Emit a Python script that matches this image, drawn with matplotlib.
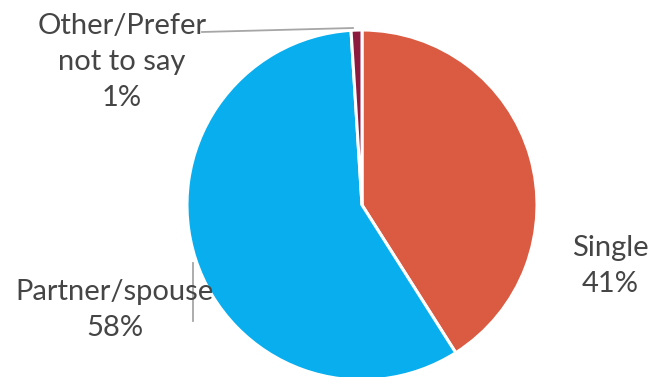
import matplotlib.pyplot as plt

labels = ['Single', 'Partner/spouse', 'Other/Prefer\nnot to say']
shares = [41, 58, 1]
colors = ['#DA5A42', '#08AEEE', '#8C1A3F']

fig = plt.figure(figsize=(6.51, 3.77), dpi=100)
ax = fig.add_axes([0, 0, 1, 1])

cx, cy, r = 362, 377 - 205, 175
ax.pie(shares, colors=colors, startangle=90, counterclock=False,
       center=(cx, cy), radius=r, frame=True,
       wedgeprops=dict(edgecolor='white', linewidth=2.2))
ax.set_xlim(0, 651)
ax.set_ylim(0, 377)
ax.set_aspect('equal')
ax.axis('off')

txt = dict(fontsize=21, color='#454545', ha='center', va='center',
           family='Lato', linespacing=1.5)
label_pos = [(610, 377 - 266), (115, 377 - 310), (122, 377 - 62)]
for name, val, (x, y) in zip(labels, shares, label_pos):
    ax.text(x, y, f'{name}\n{val}%', **txt)

# leader lines
ax.plot([202, 353], [377 - 32, 377 - 28], color='#A6A6A6', lw=1.3)
ax.plot([193, 193], [377 - 263, 377 - 321], color='#A6A6A6', lw=1.3)

plt.savefig('out.png', dpi=100)
